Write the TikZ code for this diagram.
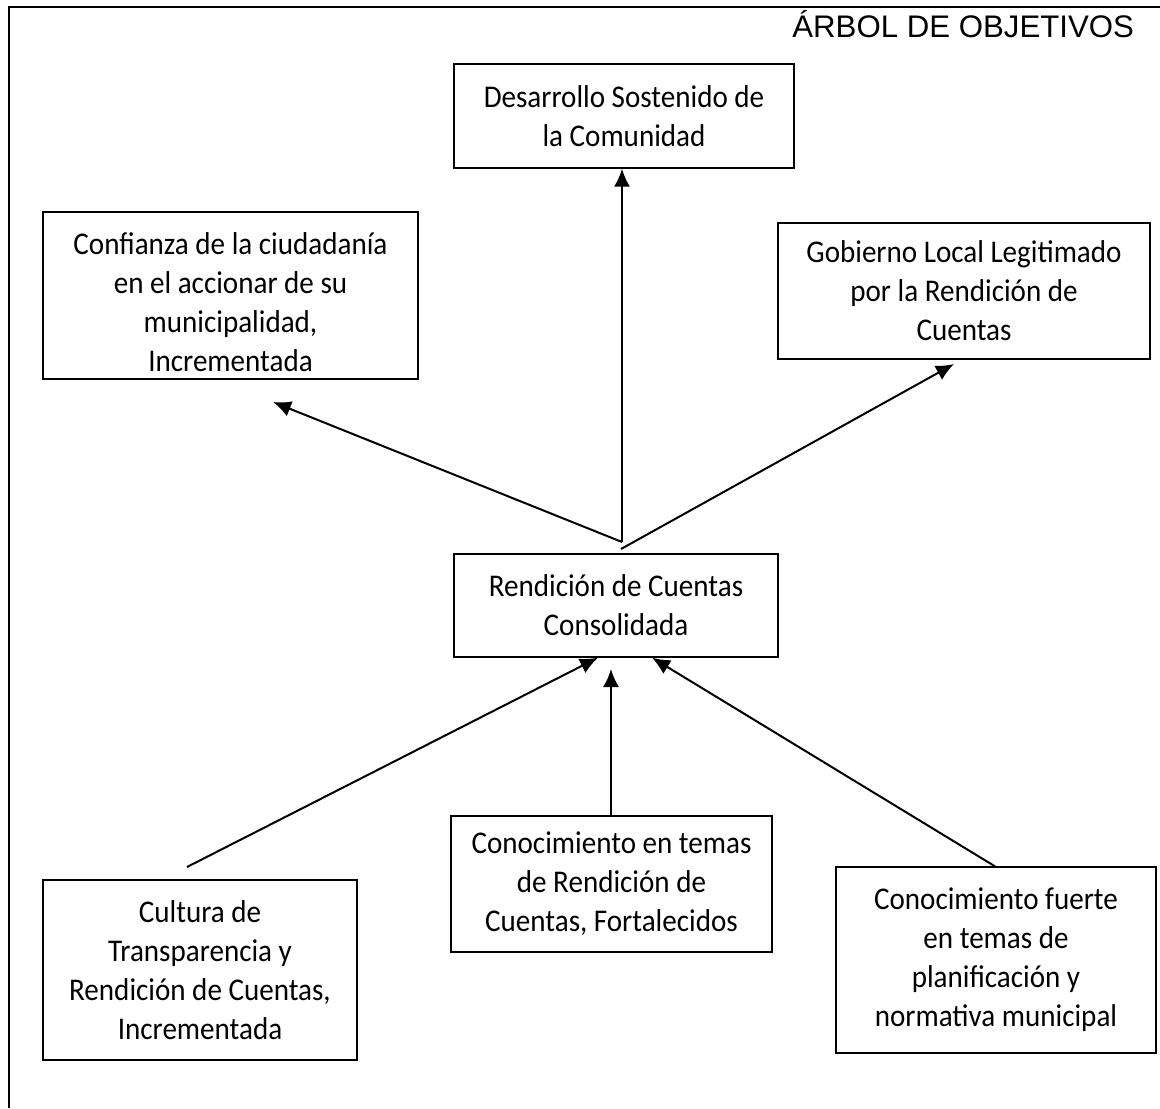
\documentclass[tikz,border=0pt]{standalone}
\usepackage{fontspec}
\setmainfont{Carlito}[FakeStretch=0.92]
\newfontfamily\arialfont{Liberation Sans}
\usetikzlibrary{arrows.meta}

\tikzset{
    caja/.style={draw, line width=0.65pt, align=center, inner sep=0pt,
        font=\fontsize{15.8}{19.5}\selectfont},
    flecha/.style={line width=1pt, -{Latex[length=9pt,width=8pt]}}
}

\begin{document}
\begin{tikzpicture}[x=0.5pt,y=-0.5pt]
    \useasboundingbox (0,0) rectangle (1160,1108);

    % Draw the frame and the title
    \draw[line width=1pt] (9,1108) -- (9,7) -- (1160,7);
    \node[anchor=base east, font=\arialfont\fontsize{15.6}{18}\selectfont] (titulo) at (1141,37) {ÁRBOL DE OBJETIVOS};

    % Draw the ends (top row)
    \node[caja, minimum width=170pt, minimum height=52pt] (desarrollo) at (624,116) {Desarrollo Sostenido de\\la Comunidad};
    \node[caja, minimum width=187.5pt, minimum height=83.5pt, text height=76pt, text depth=0pt] (confianza) at (230.5,295.5) {Confianza de la ciudadanía\\en el accionar de su\\municipalidad,\\Incrementada};
    \node[caja, minimum width=186pt, minimum height=68pt] (gobierno) at (964,291) {Gobierno Local Legitimado\\por la Rendición de\\Cuentas};

    % Draw the central objective
    \node[caja, minimum width=162pt, minimum height=51.5pt] (rendicion) at (616,605.5) {Rendición de Cuentas\\Consolidada};

    % Draw the means (bottom row)
    \node[caja, minimum width=157pt, minimum height=90pt] (cultura) at (200,970) {Cultura de\\Transparencia y\\Rendición de Cuentas,\\Incrementada};
    \node[caja, minimum width=160.5pt, minimum height=68pt] (temas) at (611.5,884) {Conocimiento en temas\\de Rendición de\\Cuentas, Fortalecidos};
    \node[caja, minimum width=160pt, minimum height=93pt] (fuerte) at (996,960) {Conocimiento fuerte\\en temas de\\planificación y\\normativa municipal};

    % Free ends of the arrows
    \coordinate (cima) at (622,542);
    \coordinate (cima2) at (621,549);
    \coordinate (finConfianza) at (273,402);
    \coordinate (finGobierno) at (954,364);
    \coordinate (iniCultura) at (187,867);
    \coordinate (finTemas) at (611,669);

    % Draw the arrows up to the ends
    \draw[flecha] (cima) -- (desarrollo.south -| cima);
    \draw[flecha] (cima) -- (finConfianza);
    \draw[flecha] (cima2) -- (finGobierno);

    % Draw the arrows up to the central objective
    \draw[flecha] (iniCultura) -- ([xshift=-9pt]rendicion.south);
    \draw[flecha] (temas.north -| finTemas) -- (finTemas);
    \draw[flecha] ([xshift=-0.5pt]fuerte.north) -- ([xshift=18pt]rendicion.south);
\end{tikzpicture}
\end{document}
